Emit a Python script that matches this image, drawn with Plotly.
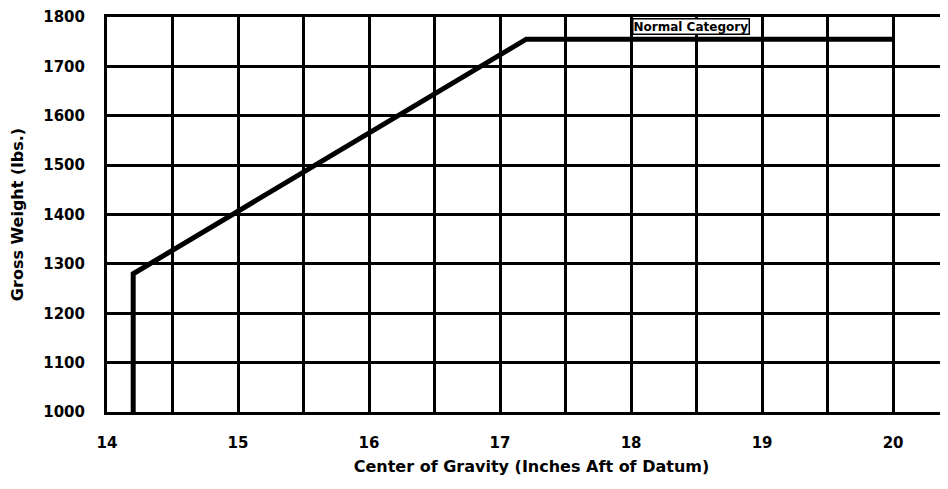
import plotly.graph_objects as go

# Envelope (Center of Gravity vs Gross Weight)
cg_inches = [14.2, 14.2, 17.2, 20.0]
gross_weight = [1000, 1280, 1755, 1755]

x_ticks = [14, 15, 16, 17, 18, 19, 20]
y_ticks = [1000, 1100, 1200, 1300, 1400, 1500, 1600, 1700, 1800]
y_tick_text = ["1000", "1100", "1200", "1300", "1400", "1500", "1600", "1700", "1800"]

label_text = "Normal Category"
label_x = 18.0
label_y = 1800

font_family = "DejaVu Sans, Liberation Sans, Arial, sans-serif"

fig = go.Figure()
fig.add_trace(go.Scatter(
    x=cg_inches, y=gross_weight, mode="lines",
    line=dict(color="black", width=5),
    showlegend=False, hoverinfo="skip",
))

fig.add_annotation(
    x=label_x, y=label_y, xref="x", yref="y",
    text="<b>" + label_text + "</b>", showarrow=False,
    xanchor="left", yanchor="top", yshift=-1, xshift=1,
    font=dict(family=font_family, size=12, color="black"),
    bgcolor="white", bordercolor="black", borderwidth=1.5, borderpad=0,
)

# page body has an 8px default margin, so offsets are compensated here
fig.update_layout(
    width=948, height=489,
    margin=dict(l=99, r=0, t=9, b=85),
    paper_bgcolor="white", plot_bgcolor="white",
    font=dict(family=font_family, color="black"),
    xaxis=dict(
        range=[14, 20.48], tickvals=x_ticks, automargin=False,
        showgrid=True, gridcolor="black", gridwidth=3,
        minor=dict(dtick=0.5, tick0=14, showgrid=True, gridcolor="black", gridwidth=3),
        showline=True, linecolor="black", linewidth=3, mirror=True,
        ticks="", ticklabelstandoff=15, zeroline=False,
        tickfont=dict(family=font_family, size=15, color="black", weight="bold"),
        title=dict(text="<b>Center of Gravity (Inches Aft of Datum)</b>",
                   font=dict(family=font_family, size=16, color="black"), standoff=10),
    ),
    yaxis=dict(
        range=[1000, 1800], tickvals=y_ticks, ticktext=y_tick_text, automargin=False,
        showgrid=True, gridcolor="black", gridwidth=3,
        showline=True, linecolor="black", linewidth=3, mirror=False,
        ticks="", ticklabelstandoff=16, zeroline=False,
        tickfont=dict(family=font_family, size=15, color="black", weight="bold"),
        title=dict(text="<b>Gross Weight (lbs.)</b>",
                   font=dict(family=font_family, size=16, color="black"), standoff=22),
    ),
)

fig.write_html("out.html")
